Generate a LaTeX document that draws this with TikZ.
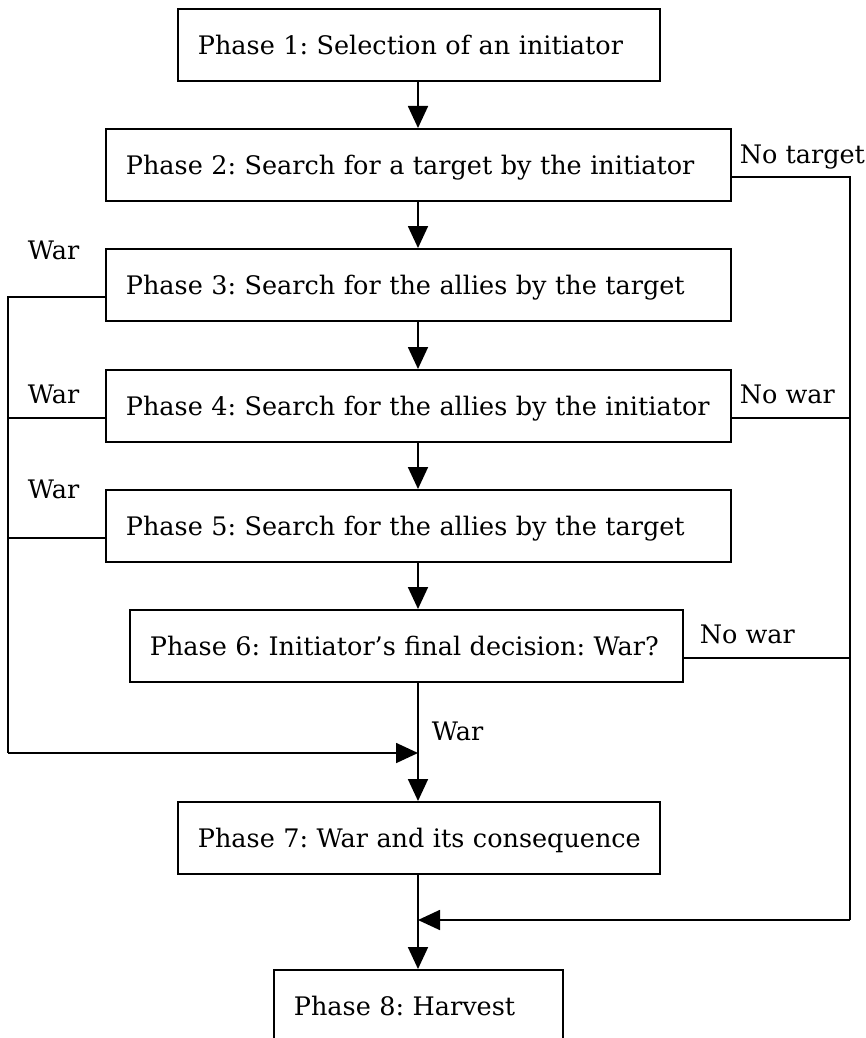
\documentclass[tikz,border=0pt]{standalone}
\usepackage{fontspec}
\setmainfont{DejaVu Serif}
\frenchspacing
\usetikzlibrary{arrows.meta,calc}
\begin{document}
\begin{tikzpicture}[x=1pt,y=-1pt, line width=1.8pt,
  txt/.style={font=\fontsize{25.5}{30}\selectfont},
  box/.style={txt, draw, anchor=north west, minimum height=72pt, inner xsep=20pt, inner ysep=0pt, align=left, text height=18.5pt, text depth=0pt},
  lbl/.style={txt, inner sep=0pt, anchor=base west},
  arr/.style={-{Triangle[length=22pt,width=20pt]}}]
\useasboundingbox (0,0) rectangle (865,1038);
\clip (0,0) rectangle (865,1038);
\node[box, text width=442pt] (p1) at (177,8) {\mbox{Phase 1: Selection of an initiator}};
\node[box, text width=585pt] (p2) at (105,128) {\mbox{Phase 2: Search for a target by the initiator}};
\node[box, text width=585pt] (p3) at (105,248) {\mbox{Phase 3: Search for the allies by the target}};
\node[box, text width=585pt] (p4) at (105,369) {\mbox{Phase 4: Search for the allies by the initiator}};
\node[box, text width=585pt] (p5) at (105,489) {\mbox{Phase 5: Search for the allies by the target}};
\node[box, text width=513pt] (p6) at (129,609) {\mbox{Phase 6: Initiator's final decision: War?}};
\node[box, text width=442pt] (p7) at (177,801) {\mbox{Phase 7: War and its consequence}};
\node[box, text width=249pt] (p8) at (273,969) {\mbox{Phase 8: Harvest}};
\coordinate (cx) at (418,0);
\coordinate (L) at (8,0);
\coordinate (R) at (850,0);
\coordinate (j1) at (418,753);
\coordinate (j2) at (418,920);
% main flow
\draw[arr] (p1.south -| cx) -- (p2.north -| cx);
\draw[arr] (p2.south -| cx) -- (p3.north -| cx);
\draw[arr] (p3.south -| cx) -- (p4.north -| cx);
\draw[arr] (p4.south -| cx) -- (p5.north -| cx);
\draw[arr] (p5.south -| cx) -- (p6.north -| cx);
\draw[arr] (p6.south -| cx) -- (p7.north -| cx);
\draw[arr] (p7.south -| cx) -- (p8.north -| cx);
% left War branch
\coordinate (w3) at ($(p3.west)+(0,12)$);
\coordinate (w4) at ($(p4.west)+(0,12)$);
\coordinate (w5) at ($(p5.west)+(0,12)$);
\draw (w3) -- (w3 -| L) -- (j1 -| L);
\draw[arr] (j1 -| L) -- (j1);
\draw (w4) -- (w4 -| L);
\draw (w5) -- (w5 -| L);
% right No-war branch
\coordinate (n2) at ($(p2.east)+(0,12)$);
\coordinate (n4) at ($(p4.east)+(0,12)$);
\coordinate (n6) at ($(p6.east)+(0,12)$);
\draw (n2) -- (n2 -| R) -- (j2 -| R);
\draw[arr] (j2 -| R) -- (j2);
\draw (n4) -- (n4 -| R);
\draw (n6) -- (n6 -| R);
% labels
\node[lbl] (l1) at (739,163) {No target};
\node[lbl] (l2) at (27,259) {War};
\node[lbl] (l3) at (27,403) {War};
\node[lbl] (l4) at (739,403) {No war};
\node[lbl] (l5) at (27,498) {War};
\node[lbl] (l6) at (699,643) {No war};
\node[lbl] (l7) at (431,740) {War};
\end{tikzpicture}
\end{document}
